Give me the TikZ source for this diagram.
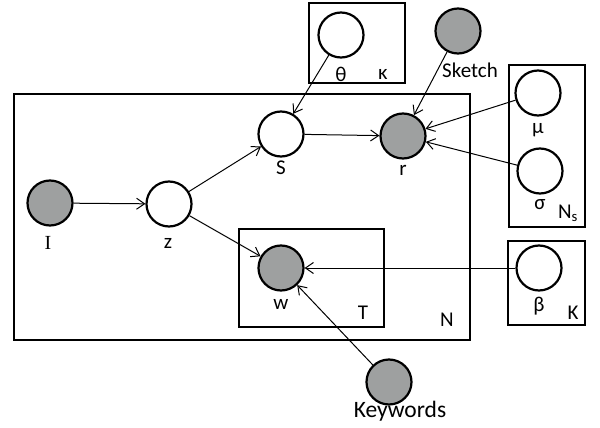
\documentclass[tikz,border=0pt]{standalone}
\usepackage{fontspec}
\setmainfont{Carlito}
\newfontfamily\serifI{Liberation Serif}
\usetikzlibrary{arrows.meta}
\definecolor{obsgray}{RGB}{158,160,160}
\begin{document}
\begin{tikzpicture}[x=1pt,y=-1pt,
  var/.style={circle,draw,line width=2.2pt,minimum size=45pt,inner sep=0pt,fill=white},
  obs/.style={var,fill=obsgray},
  plate/.style={draw,line width=2pt},
  lbl/.style={inner sep=0pt,font=\fontsize{21}{25}\selectfont},
  edge/.style={line width=1pt,-{Straight Barb[length=8pt,width=11pt]}}]
\useasboundingbox (0,0) rectangle (600,428);

% plates
\draw[plate] (14,94) rectangle (470,340);
\draw[plate] (239,229) rectangle (384,327);
\draw[plate] (309,3) rectangle (405,83);
\draw[plate] (509,65) rectangle (585,227);
\draw[plate] (508,241) rectangle (585,325);

% plate labels
\node[lbl] (lN) at (447,320) {N};
\node[lbl] (lT) at (363,313) {T};
\node[lbl] (lkappa) at (383,74) {κ};
\node[lbl] (lNs) at (568,213) {N\textsubscript{s}};
\node[lbl] (lK) at (573,313) {K};

% variables
\node[var] (theta) at (341,35) {};
\node[obs] (sketch) at (458,31) {};
\node[var] (mu) at (538,93) {};
\node[var] (sigma) at (540,171) {};
\node[obs] (I) at (50,203) {};
\node[var] (z) at (169,204) {};
\node[var] (S) at (281,134) {};
\node[obs] (r) at (403,136) {};
\node[obs] (w) at (281,268) {};
\node[var] (beta) at (539,268) {};
\node[obs] (kw) at (389,382) {};

% variable labels
\node[lbl] (ltheta) at (341,74) {θ};
\node[lbl] (lsketch) at (470,70) {Sketch};
\node[lbl] (lmu) at (538,130) {μ};
\node[lbl] (lsigma) at (540,205) {σ};
\node[lbl,font=\fontsize{20}{24}\serifI] (lI) at (48,243) {I};
\node[lbl] (lz) at (168,243) {z};
\node[lbl] (lS) at (281,168) {S};
\node[lbl] (lr) at (403,170) {r};
\node[lbl] (lw) at (281,304) {w};
\node[lbl] (lbeta) at (539,306) {β};
\node[lbl,font=\fontsize{23.5}{28}\selectfont] (lkw) at (400,411) {Keywords};

% edges
\draw[edge] (theta) -- (S);
\draw[edge] (sketch) -- (r);
\draw[edge] (mu) -- (r);
\draw[edge] (sigma) -- (r);
\draw[edge] (S) -- (r);
\draw[edge] (I) -- (z);
\draw[edge] (z) -- (S);
\draw[edge] (z) -- (w);
\draw[edge] (beta) -- (w);
\draw[edge] (kw) -- (w);
\end{tikzpicture}
\end{document}
